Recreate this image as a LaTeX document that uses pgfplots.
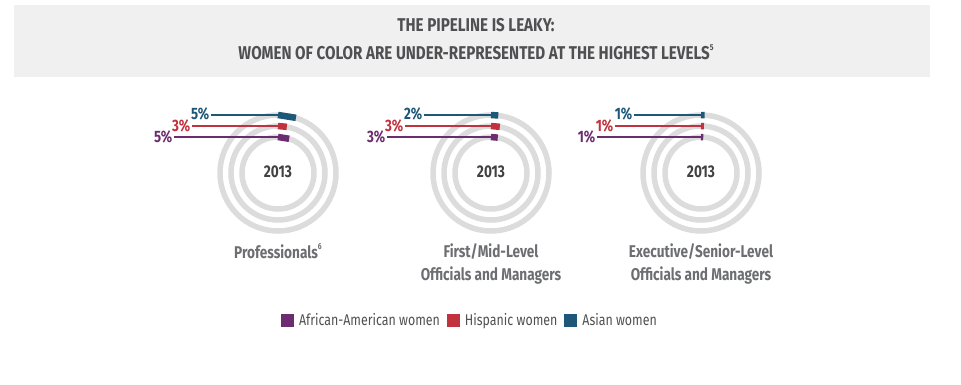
\documentclass[border=0pt]{standalone}
\usepackage{pgfplots}
\pgfplotsset{compat=1.18}
\usepackage{pgfplotstable}
\usepackage{fontspec}
\setmainfont{Fira Sans}
\newfontfamily\condfont{Fira Sans}[FakeStretch=0.80]
\newfontfamily\titlefont{Fira Sans}[FakeStretch=0.82]
\newfontfamily\legfont{Fira Sans}[FakeStretch=0.80]
\newcommand\supnote[1]{\raisebox{0.5em}{\fontsize{8.5bp}{9bp}\selectfont #1}}
\definecolor{cpurple}{HTML}{6B2D6F}
\definecolor{cred}{HTML}{C0323D}
\definecolor{cblue}{HTML}{1E5878}
\definecolor{ringgray}{HTML}{DCDCDC}
\definecolor{boxgray}{HTML}{EFF0EF}
\definecolor{titlegray}{HTML}{505053}
\definecolor{subgray}{HTML}{6D6E71}
\definecolor{yeargray}{HTML}{414042}

% cx = centre of each ring chart (Professionals, First/Mid, Executive)
\pgfplotstableread{
cx value
278 5
491 2
701 1
}\asian
\pgfplotstableread{
cx value
278 3
491 3
701 1
}\hispanic
\pgfplotstableread{
cx value
278 5
491 3
701 1
}\african

\begin{document}
\begin{tikzpicture}
\begin{axis}[
  x=1bp, y=1bp, xmin=0, xmax=961, ymin=0, ymax=384, y dir=reverse,
  hide axis, clip=false, scale only axis,
  legend style={at={(axis cs:470,320)}, anchor=center, draw=none, fill=none,
    legend columns=3, font=\legfont\fontsize{15.5bp}{18bp}\selectfont, text=titlegray,
    /tikz/every odd column/.append style={column sep=3bp},
    /tikz/every even column/.append style={column sep=5bp}},
  legend image code/.code={\fill[#1] (0bp,-6.5bp) rectangle (13bp,6.5bp);},
]
\path (axis cs:0,0) rectangle (axis cs:961,384);
\fill[boxgray] (axis cs:14,5) rectangle (axis cs:930,77);
\node[font=\titlefont\bfseries\fontsize{18.5bp}{20bp}\selectfont, text=titlegray] at (axis cs:476,25) {THE PIPELINE IS LEAKY:};
\node[font=\titlefont\bfseries\fontsize{18.5bp}{20bp}\selectfont, text=titlegray] at (axis cs:476,52) {WOMEN OF COLOR ARE UNDER-REPRESENTED AT THE HIGHEST LEVELS\supnote{5}};

% background rings
\draw[ringgray, line width=5.5bp] (axis cs:278,173) circle[radius=58bp];
\draw[ringgray, line width=5.5bp] (axis cs:278,173) circle[radius=47bp];
\draw[ringgray, line width=5.5bp] (axis cs:278,173) circle[radius=36bp];
\draw[ringgray, line width=5.5bp] (axis cs:491,173) circle[radius=58bp];
\draw[ringgray, line width=5.5bp] (axis cs:491,173) circle[radius=47bp];
\draw[ringgray, line width=5.5bp] (axis cs:491,173) circle[radius=36bp];
\draw[ringgray, line width=5.5bp] (axis cs:701,173) circle[radius=58bp];
\draw[ringgray, line width=5.5bp] (axis cs:701,173) circle[radius=47bp];
\draw[ringgray, line width=5.5bp] (axis cs:701,173) circle[radius=36bp];

% value arcs (share of 360 degrees, clockwise from the top)
\addplot[forget plot, cblue, line width=6.5bp, quiver={u={58*sin(3.6*\thisrow{value})}, v={58*(1-cos(3.6*\thisrow{value}))}}]
  table[x=cx, y expr=115] {\asian};
\addplot[forget plot, cred, line width=6.5bp, quiver={u={47*sin(3.6*\thisrow{value})}, v={47*(1-cos(3.6*\thisrow{value}))}}]
  table[x=cx, y expr=126] {\hispanic};
\addplot[forget plot, cpurple, line width=6.5bp, quiver={u={36*sin(3.6*\thisrow{value})}, v={36*(1-cos(3.6*\thisrow{value}))}}]
  table[x=cx, y expr=137] {\african};

% leader lines
\addplot[forget plot, cblue, line width=1.6bp, quiver={u=67, v=0}] table[x expr=\thisrow{cx}-67, y expr=115] {\asian};
\addplot[forget plot, cred, line width=1.6bp, quiver={u=86, v=0}] table[x expr=\thisrow{cx}-86, y expr=126] {\hispanic};
\addplot[forget plot, cpurple, line width=1.6bp, quiver={u=104, v=0}] table[x expr=\thisrow{cx}-104, y expr=137] {\african};

% value labels
\addplot[forget plot, draw=none, point meta=explicit symbolic, nodes near coords={\pgfplotspointmeta\%},
  nodes near coords style={anchor=east, inner sep=1.5bp, text=cblue, font=\condfont\bfseries\fontsize{16.5bp}{18bp}\selectfont}]
  table[x expr=\thisrow{cx}-67, y expr=114, meta=value] {\asian};
\addplot[forget plot, draw=none, point meta=explicit symbolic, nodes near coords={\pgfplotspointmeta\%},
  nodes near coords style={anchor=east, inner sep=1.5bp, text=cred, font=\condfont\bfseries\fontsize{16.5bp}{18bp}\selectfont}]
  table[x expr=\thisrow{cx}-86, y expr=126, meta=value] {\hispanic};
\addplot[forget plot, draw=none, point meta=explicit symbolic, nodes near coords={\pgfplotspointmeta\%},
  nodes near coords style={anchor=east, inner sep=1.5bp, text=cpurple, font=\condfont\bfseries\fontsize{16.5bp}{18bp}\selectfont}]
  table[x expr=\thisrow{cx}-104, y expr=137, meta=value] {\african};

% centre year labels
\node[font=\condfont\bfseries\fontsize{17bp}{18bp}\selectfont, text=yeargray] at (axis cs:278,172) {2013};
\node[font=\condfont\bfseries\fontsize{17bp}{18bp}\selectfont, text=yeargray] at (axis cs:491,172) {2013};
\node[font=\condfont\bfseries\fontsize{17bp}{18bp}\selectfont, text=yeargray] at (axis cs:701,172) {2013};

% chart captions
\node[font=\condfont\bfseries\fontsize{17bp}{23bp}\selectfont, text=subgray, align=center] at (axis cs:278,251) {Professionals\supnote{6}};
\node[font=\condfont\bfseries\fontsize{17bp}{23bp}\selectfont, text=subgray, align=center] at (axis cs:491,263.5) {First/Mid-Level\\Officials and Managers};
\node[font=\condfont\bfseries\fontsize{17bp}{23bp}\selectfont, text=subgray, align=center] at (axis cs:701,263.5) {Executive/Senior-Level\\Officials and Managers};

\addlegendimage{fill=cpurple, draw=none}
\addlegendentry{African-American women}
\addlegendimage{fill=cred, draw=none}
\addlegendentry{Hispanic women}
\addlegendimage{fill=cblue, draw=none}
\addlegendentry{Asian women}
\end{axis}
\end{tikzpicture}
\end{document}
